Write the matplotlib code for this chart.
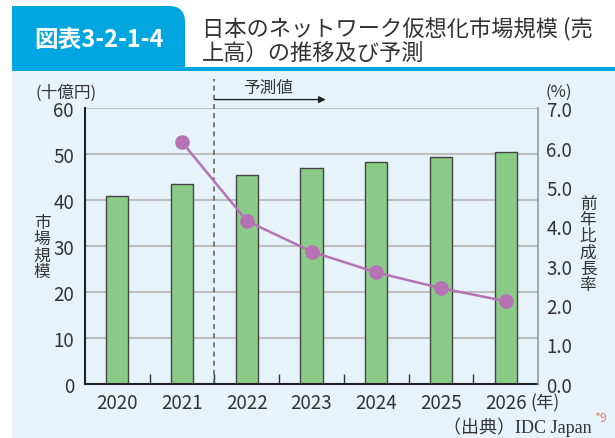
import matplotlib.pyplot as plt
import numpy as np
from matplotlib.patches import Rectangle, FancyBboxPatch

plt.rcParams['font.family'] = ['Noto Sans CJK JP', 'DejaVu Sans']

years = ['2020', '2021', '2022', '2023', '2024', '2025', '2026']
market = [41.0, 43.5, 45.4, 47.0, 48.3, 49.4, 50.4]
growth_years = ['2021', '2022', '2023', '2024', '2025', '2026']
growth = [6.14, 4.14, 3.36, 2.83, 2.43, 2.10]
left_ticks = [0, 10, 20, 30, 40, 50, 60]
right_ticks = [0.0, 1.0, 2.0, 3.0, 4.0, 5.0, 6.0, 7.0]

txt = '#333333'
blue = '#00a6e0'
panel = '#e6f3fb'

fig = plt.figure(figsize=(6.15, 4.39), dpi=100)

# background layer in pixel units
bg = fig.add_axes([0, 0, 1, 1], zorder=-1)
bg.set_xlim(0, 615)
bg.set_ylim(439, 0)
bg.axis('off')
bg.add_patch(Rectangle((12, 70), 603, 369, color=panel, lw=0))
bg.add_patch(FancyBboxPatch((12, 7), 173, 64, boxstyle='round,pad=0,rounding_size=16', color=blue, lw=0))
bg.add_patch(Rectangle((12, 7), 90, 64, color=blue, lw=0))
bg.add_patch(Rectangle((12, 40), 173, 31, color=blue, lw=0))
bg.add_patch(Rectangle((12, 68), 603, 4, color=blue, lw=0))
bg.text(99, 41, '図表3-2-1-4', color='white', fontsize=17, fontweight='bold', ha='center', va='center')
bg.text(202, 29, '日本のネットワーク仮想化市場規模 (売', color=txt, fontsize=16, ha='left', va='center')
bg.text(202, 53, '上高）の推移及び予測', color=txt, fontsize=16, ha='left', va='center')

bg.text(66, 93, '(十億円)', color=txt, fontsize=12, ha='center', va='center')
bg.text(559, 92, '(%)', color=txt, fontsize=12, ha='center', va='center')
bg.text(42, 248, '市\n場\n規\n模', color=txt, fontsize=12, ha='center', va='center', linespacing=0.95)
bg.text(588, 245, '前\n年\n比\n成\n長\n率', color=txt, fontsize=12, ha='center', va='center', linespacing=0.95)
bg.text(530, 403, '(年)', color=txt, fontsize=12.5, ha='left', va='center')
bg.text(592, 427, '（出典）IDC Japan', color=txt, fontsize=13, ha='right', va='center',
        family=['Liberation Serif', 'Noto Sans CJK JP'])
bg.text(594, 419, '*9', color='#e8836a', fontsize=9, ha='left', va='center')

ax = fig.add_axes([85 / 615, 1 - 384.8 / 439, 453 / 615, 275.5 / 439])
ax.set_facecolor('none')
x = np.arange(len(years))
ax.bar(x, market, width=0.34, color='#8bcb88', edgecolor='#444444', linewidth=1, zorder=2)
ax.set_xlim(-0.5, len(years) - 0.5)
ax.set_ylim(0, 60)
ax.set_yticks(left_ticks)
ax.set_xticks(x)
ax.set_xticklabels(years)
ax.set_xticks(np.arange(0.5, len(years) - 1, 1), minor=True)
ax.tick_params(axis='x', which='major', length=0, pad=6, labelsize=13.5, labelcolor=txt)
ax.tick_params(axis='x', which='minor', direction='in', length=7, width=1, color='#333333')
ax.tick_params(axis='y', length=0, pad=8, labelsize=13.5, labelcolor=txt)
ax.yaxis.grid(True, color='#bfbfbf', lw=1.5)
ax.set_axisbelow(True)
for s in ['top', 'right']:
    ax.spines[s].set_visible(False)
ax.spines['left'].set_color('#222222')
ax.spines['bottom'].set_color('#222222')
ax.spines['left'].set_linewidth(1.5)
ax.spines['bottom'].set_linewidth(1.5)

# forecast marker
ax.plot([1.5, 1.5], [0, 66.4], ls=(0, (3, 2.5)), color='#666666', lw=1.2, clip_on=False, zorder=1)
ax.annotate('', xy=(3.22, 61.9), xytext=(1.5, 61.9), annotation_clip=False,
            arrowprops=dict(arrowstyle='-|>', color='#222222', lw=1, mutation_scale=10, shrinkA=0, shrinkB=0))
ax.text(2.33, 64.6, '予測値', color=txt, fontsize=12, ha='center', va='center', clip_on=False)

ax2 = ax.twinx()
gx = [years.index(y) for y in growth_years]
ax2.plot(gx, growth, color='#b572b5', lw=1.8, marker='o', markersize=9.5, zorder=3)
ax2.set_ylim(0, 7)
ax2.set_yticks(right_ticks)
ax2.set_yticklabels([f'{v:.1f}' for v in right_ticks])
ax2.tick_params(axis='y', length=0, pad=6, labelsize=13.5, labelcolor=txt)
for s in ['top', 'left', 'bottom']:
    ax2.spines[s].set_visible(False)
ax2.spines['right'].set_color('#9a9a9a')
ax2.spines['right'].set_linewidth(1.2)

plt.savefig('out.png', dpi=100)
